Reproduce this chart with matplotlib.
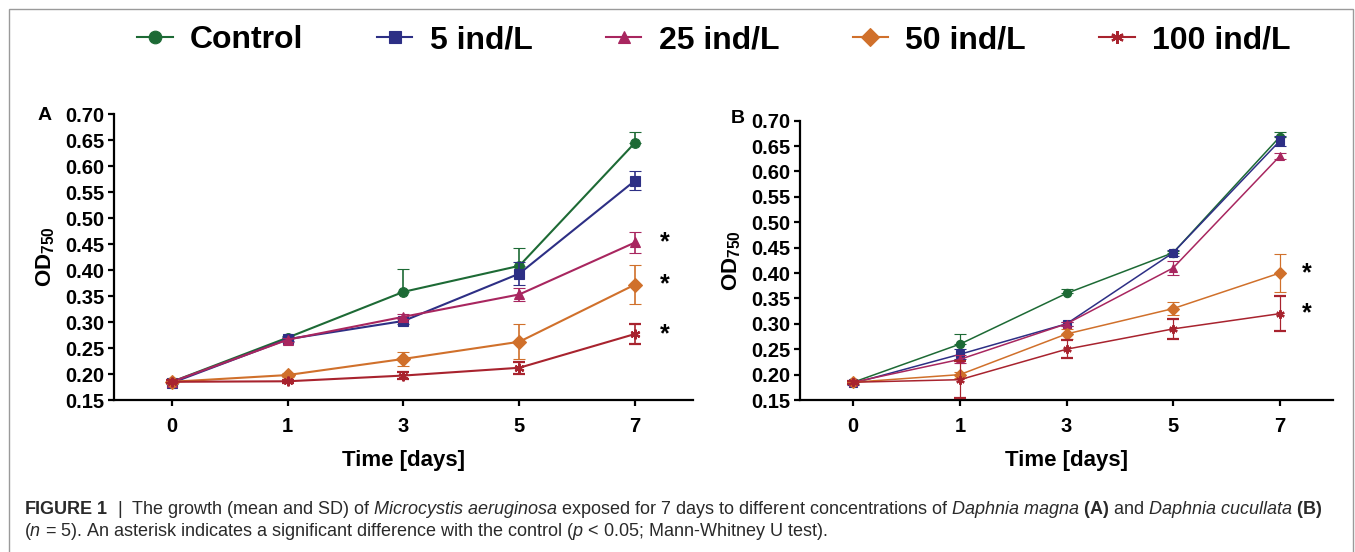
import matplotlib
matplotlib.use("Agg")
import matplotlib.pyplot as plt
from matplotlib.patches import Rectangle
import numpy as np

plt.rcParams['font.family'] = ['Liberation Sans', 'DejaVu Sans']
plt.rcParams['mathtext.fontset'] = 'custom'
plt.rcParams['mathtext.rm'] = 'Liberation Sans'
plt.rcParams['mathtext.it'] = 'Liberation Sans:italic'
plt.rcParams['mathtext.bf'] = 'Liberation Sans:bold'

# ---------------- data ----------------
days = ["0", "1", "3", "5", "7"]
series = ["Control", "5 ind/L", "25 ind/L", "50 ind/L", "100 ind/L"]
colors = ["#1d6a35", "#2d2f85", "#a8265f", "#d0702b", "#a8232e"]
markers = ["o", "s", "^", "D", (6, 2, 0)]

# Panel A (Daphnia magna)
a_control = [0.185, 0.270, 0.358, 0.408, 0.645]
a_control_sd = [0.003, 0.004, 0.044, 0.035, 0.020]
a_5 = [0.183, 0.267, 0.302, 0.393, 0.572]
a_5_sd = [0.003, 0.004, 0.005, 0.022, 0.018]
a_25 = [0.185, 0.266, 0.310, 0.353, 0.453]
a_25_sd = [0.003, 0.004, 0.005, 0.012, 0.021]
a_50 = [0.185, 0.198, 0.229, 0.262, 0.372]
a_50_sd = [0.003, 0.004, 0.014, 0.034, 0.038]
a_100 = [0.185, 0.186, 0.197, 0.212, 0.277]
a_100_sd = [0.003, 0.003, 0.007, 0.012, 0.020]

# Panel B (Daphnia cucullata)
b_control = [0.185, 0.260, 0.360, 0.440, 0.668]
b_control_sd = [0.003, 0.019, 0.008, 0.004, 0.010]
b_5 = [0.183, 0.240, 0.300, 0.440, 0.660]
b_5_sd = [0.003, 0.010, 0.004, 0.006, 0.010]
b_25 = [0.185, 0.230, 0.300, 0.410, 0.630]
b_25_sd = [0.003, 0.008, 0.004, 0.013, 0.006]
b_50 = [0.185, 0.200, 0.280, 0.330, 0.400]
b_50_sd = [0.003, 0.006, 0.010, 0.012, 0.038]
b_100 = [0.185, 0.190, 0.250, 0.290, 0.320]
b_100_sd = [0.003, 0.037, 0.018, 0.020, 0.034]

# significance markers (series index at day 7)
a_signif = [2, 3, 4]
b_signif = [3, 4]

yticks = [0.15, 0.20, 0.25, 0.30, 0.35, 0.40, 0.45, 0.50, 0.55, 0.60, 0.65, 0.70]

panelA = [(a_control, a_control_sd), (a_5, a_5_sd), (a_25, a_25_sd), (a_50, a_50_sd), (a_100, a_100_sd)]
panelB = [(b_control, b_control_sd), (b_5, b_5_sd), (b_25, b_25_sd), (b_50, b_50_sd), (b_100, b_100_sd)]

fig = plt.figure(figsize=(13.55, 5.52), dpi=100)

# frame
fig.patches.append(Rectangle((9/1355, -0.05), (1353-9)/1355, 1.05 - 9/552, transform=fig.transFigure,
                             fill=False, edgecolor="#9a9a9a", linewidth=1.0))

axA = fig.add_axes([114/1355, 1-400/552, (693-114)/1355, (400-114)/552])
axB = fig.add_axes([800/1355, 1-400/552, (1333-800)/1355, (400-120.7)/552])

def draw(ax, data, lw, ms, signif):
    x = np.arange(len(days))
    handles = []
    for i, ((vals, sd), c, m) in enumerate(zip(data, colors, markers)):
        sd = np.array(sd)
        if i == 0:
            yerr = [np.zeros_like(sd), sd]
        else:
            yerr = sd
        cont = ax.errorbar(x, vals, yerr=yerr, color=c, marker=m, markersize=ms,
                           linewidth=lw, elinewidth=lw*0.8, capsize=4, capthick=lw*0.8,
                           markeredgewidth=1.6 if i == 4 else 0.8, label=series[i], zorder=3 + i*0.1)
        handles.append(cont[0])
    for s in signif:
        ax.text(4.21, data[s][0][4], "*", fontsize=18, fontweight="bold", ha="left", va="center")
    ax.set_xlim(-0.5, 4.5)
    ax.set_ylim(0.15, 0.70)
    ax.set_xticks(x)
    ax.set_xticklabels(days)
    ax.set_yticks(yticks)
    ax.set_yticklabels([f"{v:.2f}" for v in yticks])
    for sp in ["top", "right"]:
        ax.spines[sp].set_visible(False)
    for sp in ["left", "bottom"]:
        ax.spines[sp].set_linewidth(1.6)
    ax.tick_params(direction="out", length=4, width=1.6, labelsize=14.5, pad=3)
    ax.tick_params(axis="x", pad=8)
    for t in ax.get_xticklabels() + ax.get_yticklabels():
        t.set_fontweight("bold")
    ax.set_xlabel("Time [days]", fontsize=16, fontweight="bold", labelpad=10)
    ax.set_ylabel(r"OD$_\mathbf{750}$", fontsize=16, fontweight="bold", labelpad=6)
    return handles

hA = draw(axA, panelA, 1.5, 7, a_signif)
hB = draw(axB, panelB, 1.1, 6, b_signif)

fig.text(45/1355, 1-116/552, "A", fontsize=14, fontweight="bold", ha="center", va="center")
fig.text(738/1355, 1-118/552, "B", fontsize=14, fontweight="bold", ha="center", va="center")

fig.legend(handles=hA, labels=series, loc="center", bbox_to_anchor=(0.527, 1-40/552), ncol=5,
           frameon=False, prop={"family": "Liberation Sans", "weight": "bold", "size": 23},
           handlelength=1.1, handletextpad=0.55, columnspacing=2.3, markerscale=1.3)

cap1 = (r"$\mathbf{FIGURE\ 1}$  |  The growth (mean and SD) of $\mathit{Microcystis\ aeruginosa}$ exposed for 7 days to "
        r"different concentrations of $\mathit{Daphnia\ magna}$ $\mathbf{(A)}$ and $\mathit{Daphnia\ cucullata}$ $\mathbf{(B)}$")
cap2 = (r"($\mathit{n}$ = 5). An asterisk indicates a significant difference with the control ($\mathit{p}$ < 0.05; Mann-Whitney U test).")
fig.text(24/1355, 1-509/552, cap1, fontsize=13, color="#2a2a2a", ha="left", va="center")
fig.text(24/1355, 1-532/552, cap2, fontsize=13, color="#2a2a2a", ha="left", va="center")

fig.savefig("out.png", dpi=100)
